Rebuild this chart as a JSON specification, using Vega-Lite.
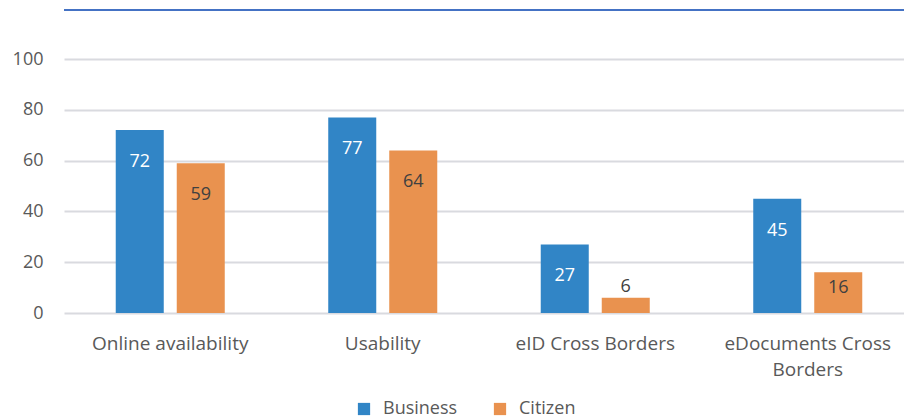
{
  "$schema": "https://vega.github.io/schema/vega-lite/v6.json",
  "width": 840,
  "height": 254,
  "autosize": {"type": "none"},
  "padding": {"left": 64, "top": 59, "right": 0, "bottom": 106},
  "config": {
    "view": {"stroke": null},
    "font": "Open Sans"
  },
  "data": {
    "values": [
      {"indicator": "Online availability", "group": "Business", "value": 72},
      {"indicator": "Online availability", "group": "Citizen", "value": 59},
      {"indicator": "Usability", "group": "Business", "value": 77},
      {"indicator": "Usability", "group": "Citizen", "value": 64},
      {"indicator": "eID Cross Borders", "group": "Business", "value": 27},
      {"indicator": "eID Cross Borders", "group": "Citizen", "value": 6},
      {"indicator": "eDocuments Cross Borders", "group": "Business", "value": 45},
      {"indicator": "eDocuments Cross Borders", "group": "Citizen", "value": 16}
    ]
  },
  "layer": [
    {
      "mark": {"type": "bar"},
      "encoding": {
        "x": {
          "field": "indicator", "type": "nominal", "sort": null,
          "scale": {"range": [0, 850], "paddingInner": 0.487, "paddingOuter": 0.2435},
          "axis": {
            "orient": "bottom", "title": null, "domain": false, "ticks": false, "grid": false,
            "labelAngle": 0, "labelFontSize": 19, "labelColor": "#595959", "labelPadding": 21,
            "labelBaseline": "top", "labelLineHeight": 26, "labelLimit": 300,
            "labelExpr": "datum.label == 'eDocuments Cross Borders' ? ['eDocuments Cross', 'Borders'] : datum.label"
          }
        },
        "xOffset": {"field": "group", "type": "nominal", "sort": ["Business", "Citizen"], "scale": {"paddingInner": 0.213, "paddingOuter": 0}},
        "y": {
          "field": "value", "type": "quantitative",
          "scale": {"domain": [0, 100]},
          "axis": {
            "title": null, "domain": false, "ticks": false, "values": [0, 20, 40, 60, 80, 100],
            "grid": true, "gridColor": "#D9DADF", "gridWidth": 2, "labelOverlap": false,
            "labelFontSize": 18, "labelColor": "#595959", "labelPadding": 21
          }
        },
        "color": {
          "field": "group", "type": "nominal",
          "scale": {"domain": ["Business", "Citizen"], "range": ["#3185C6", "#E9924F"]},
          "legend": {
            "title": null, "orient": "none", "direction": "horizontal",
            "legendX": 291, "legendY": 341,
            "symbolType": "square", "symbolSize": 150, "symbolStrokeWidth": 0,
            "labelFontSize": 18, "labelColor": "#595959", "labelOffset": 10, "columnPadding": 33
          }
        }
      }
    },
    {
      "transform": [{"filter": "datum.value >= 20"}],
      "mark": {"type": "text", "dy": 32, "baseline": "middle", "fontSize": 18},
      "encoding": {
        "x": {"field": "indicator", "type": "nominal", "sort": null},
        "xOffset": {"field": "group", "type": "nominal", "sort": ["Business", "Citizen"]},
        "y": {"field": "value", "type": "quantitative"},
        "text": {"field": "value", "type": "quantitative"},
        "color": {"condition": {"test": "datum.group === 'Business'", "value": "#FFFFFF"}, "value": "#404040"}
      }
    },
    {
      "transform": [{"filter": "datum.value < 20 && datum.value >= 10"}],
      "mark": {"type": "text", "dy": 16, "baseline": "middle", "fontSize": 18},
      "encoding": {
        "x": {"field": "indicator", "type": "nominal", "sort": null},
        "xOffset": {"field": "group", "type": "nominal", "sort": ["Business", "Citizen"]},
        "y": {"field": "value", "type": "quantitative"},
        "text": {"field": "value", "type": "quantitative"},
        "color": {"condition": {"test": "datum.group === 'Business'", "value": "#FFFFFF"}, "value": "#404040"}
      }
    },
    {
      "transform": [{"filter": "datum.value < 10"}],
      "mark": {"type": "text", "dy": -11, "baseline": "middle", "fontSize": 18},
      "encoding": {
        "x": {"field": "indicator", "type": "nominal", "sort": null},
        "xOffset": {"field": "group", "type": "nominal", "sort": ["Business", "Citizen"]},
        "y": {"field": "value", "type": "quantitative"},
        "text": {"field": "value", "type": "quantitative"},
        "color": {"value": "#404040"}
      }
    },
    {
      "mark": {"type": "rule", "color": "#4472C4", "strokeWidth": 2, "clip": false},
      "encoding": {
        "y": {"datum": 119.3, "type": "quantitative"}
      }
    }
  ]
}
